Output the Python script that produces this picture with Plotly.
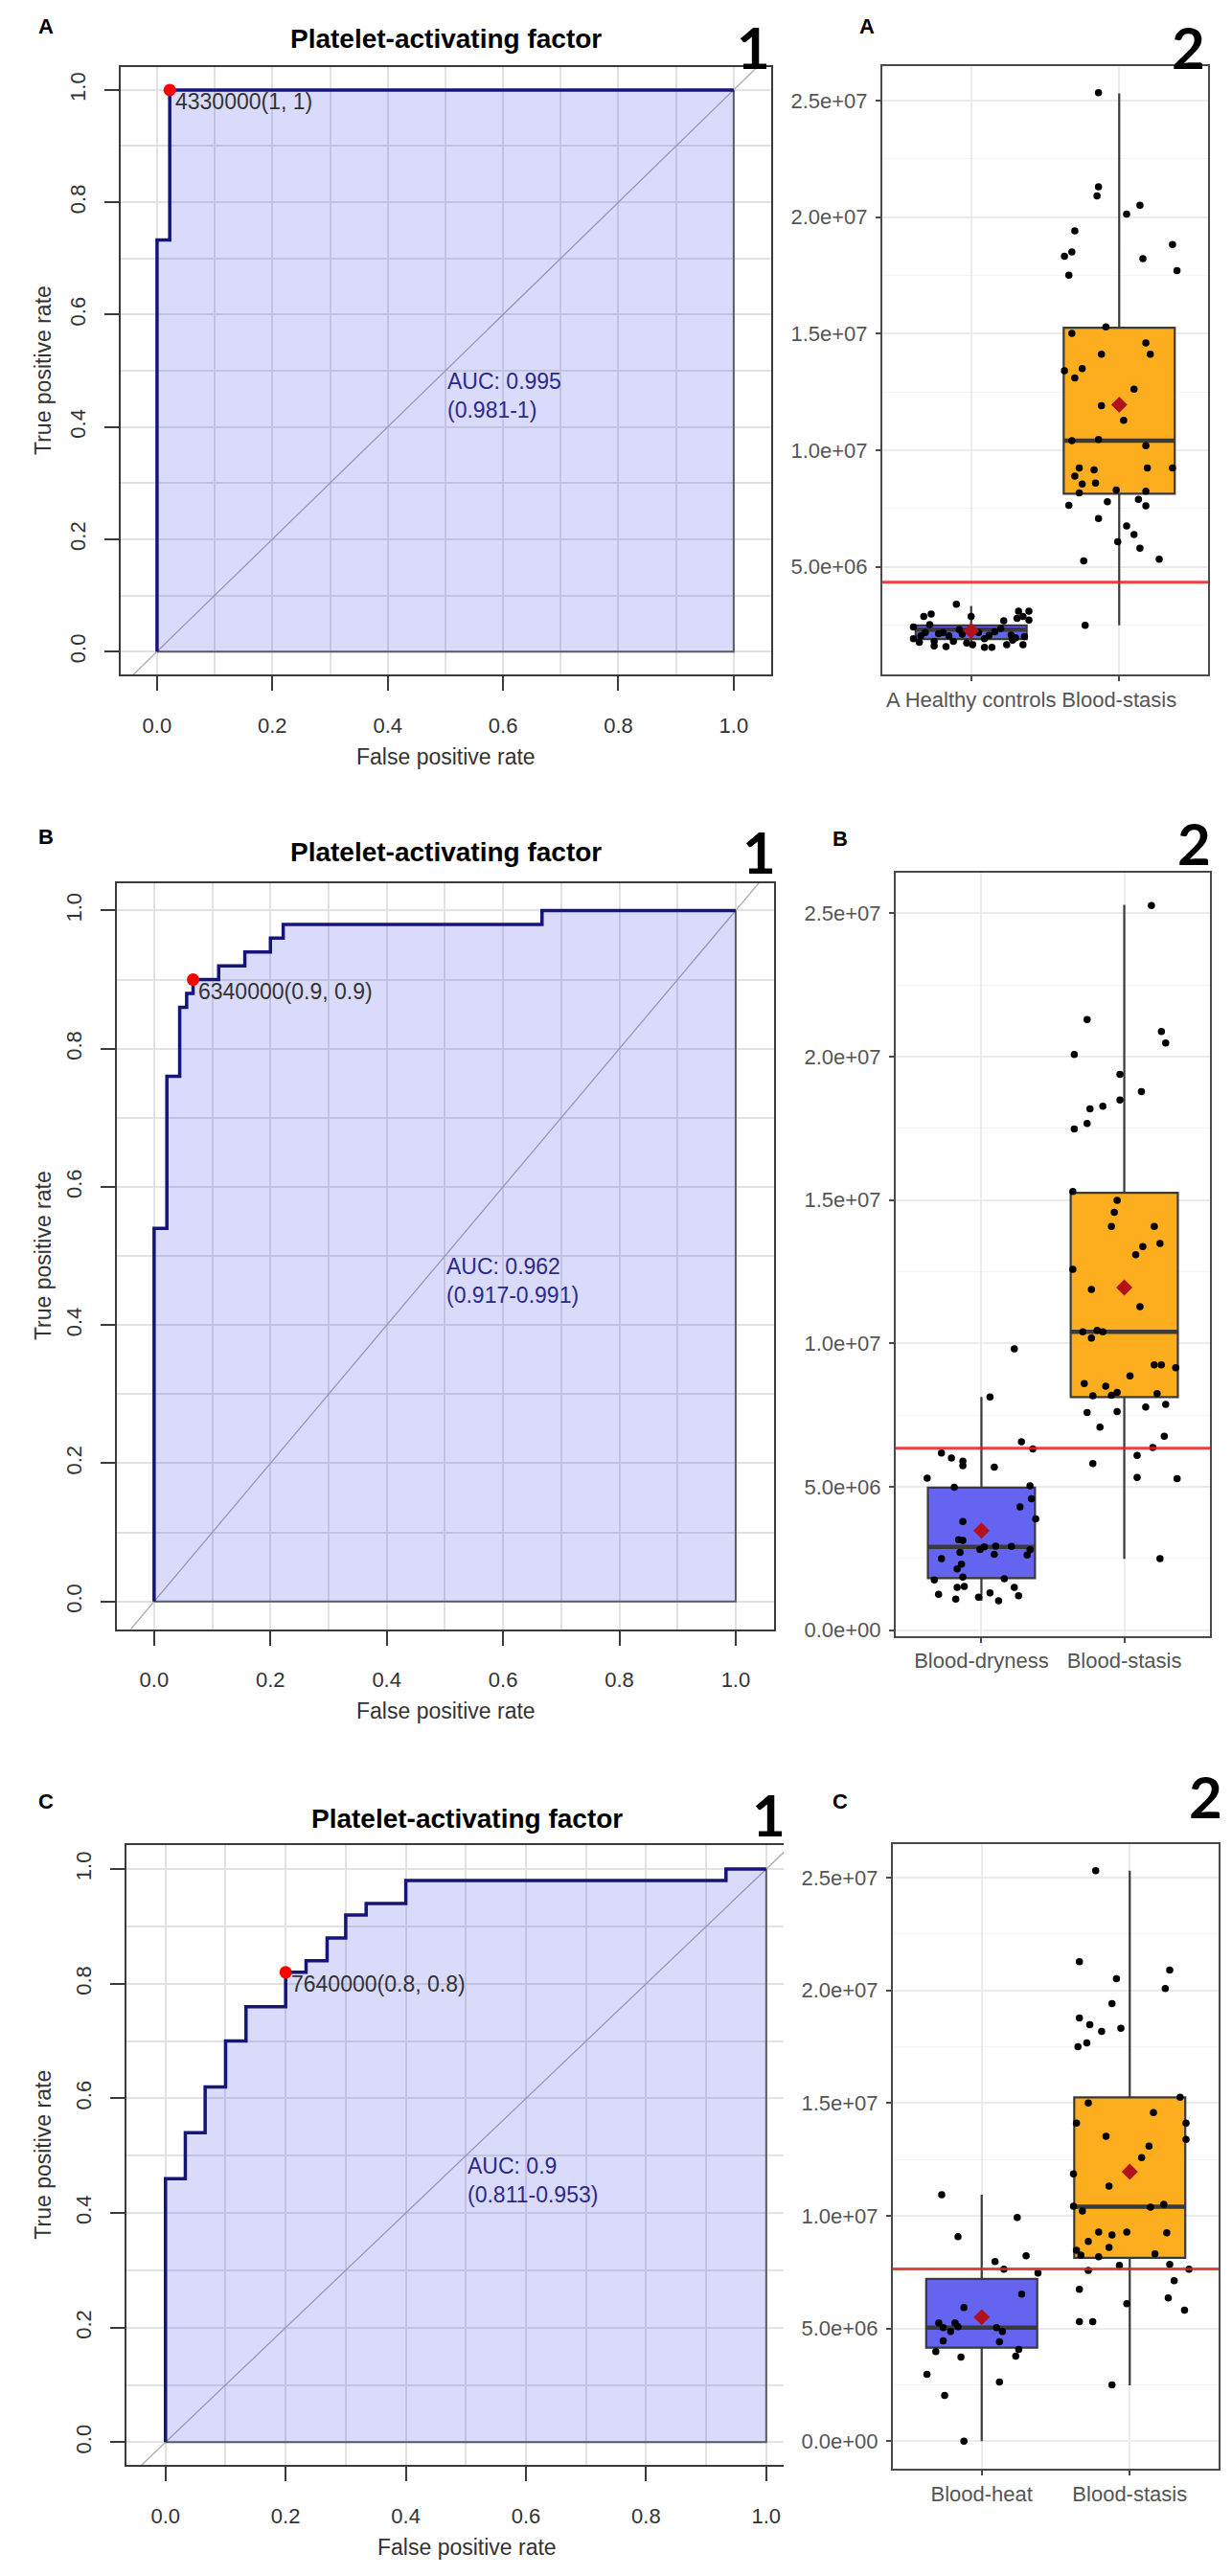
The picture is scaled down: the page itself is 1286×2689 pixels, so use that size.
import plotly.graph_objs as go

W, H = 1286, 2689

# ---------------- ROC data (fpr, tpr corners of the step curve) ----------------
roc_a_fpr = [0, 0, 0.022, 1.0]
roc_a_tpr = [0, 0.733, 1.0, 1.0]
roc_b_fpr = [0, 0, 0.022, 0.044, 0.056, 0.067, 0.111, 0.156, 0.2, 0.222, 0.667, 1.0]
roc_b_tpr = [0, 0.54, 0.76, 0.86, 0.88, 0.90, 0.92, 0.94, 0.96, 0.98, 1.0, 1.0]
roc_c_fpr = [0, 0, 0.033, 0.066, 0.10, 0.134, 0.20, 0.234, 0.269, 0.30, 0.334, 0.40, 0.933, 1.0]
roc_c_tpr = [0, 0.46, 0.54, 0.62, 0.70, 0.76, 0.82, 0.84, 0.88, 0.92, 0.94, 0.98, 1.0, 1.0]

best_fpr = [0.022, 0.067, 0.20]
best_tpr = [1.0, 0.90, 0.82]
best_text = ['4330000(1, 1)', '6340000(0.9, 0.9)', '7640000(0.8, 0.8)']
auc_text = ['AUC: 0.995<br>(0.981-1)', 'AUC: 0.962<br>(0.917-0.991)', 'AUC: 0.9<br>(0.811-0.953)']
roc_title = 'Platelet-activating factor'
roc_ticks = [0, 0.2, 0.4, 0.6, 0.8, 1.0]

# ---------------- box plot data (values x 1e6) ----------------
cutoffs = [4.33, 6.34, 7.64]
groups_a = ['A Healthy controls', 'Blood-stasis']
groups_b = ['Blood-dryness', 'Blood-stasis']
groups_c = ['Blood-heat', 'Blood-stasis']

# box statistics: lower whisker, q1, median, q3, upper whisker, mean
healthy_stats = [1.55, 1.89, 2.30, 2.48, 3.32, 2.25]
dryness_stats = [1.02, 1.81, 2.90, 4.97, 8.13, 3.47]
heat_stats = [0.0, 4.15, 5.04, 7.20, 10.93, 5.50]
stasis_stats = [2.48, 8.13, 10.40, 15.25, 25.30, 11.95]

# points: jitter offset around the group, value
healthy_off = [-0.10, -0.27, -0.32, 0.00, 0.22, 0.32, 0.39, 0.35, 0.31, 0.39, -0.28, -0.39, -0.39, -0.34,
               -0.25, -0.17, -0.25, -0.12, -0.03, 0.09, 0.14, 0.24, 0.35, 0.05, -0.06, -0.15, 0.16, 0.27,
               0.30, -0.31, -0.19, 0.09, 0.01, 0.20, -0.08, 0.12, -0.22, 0.28, 0.36, -0.35]
healthy_val = [3.39, 2.97, 2.86, 2.86, 2.68, 3.09, 3.09, 2.86, 2.78, 2.71, 2.51, 2.41, 1.91, 2.03,
               1.80, 1.57, 1.60, 1.80, 1.72, 1.54, 1.54, 1.65, 1.65, 2.18, 2.10, 2.03, 2.21, 2.06,
               1.95, 2.18, 2.18, 1.91, 1.65, 2.35, 2.30, 2.05, 2.12, 1.85, 2.00, 1.75]
stasis_a_off = [-0.14, -0.14, -0.15, 0.14, 0.05, -0.30, -0.32, -0.37, 0.36, 0.16, 0.39, -0.34, -0.09, -0.32,
                0.18, -0.12, 0.21, -0.25, -0.37, -0.30, 0.10, -0.12, 0.03, -0.32, -0.14, 0.18, -0.27, -0.17,
                0.19, 0.36, -0.30, -0.25, -0.16, -0.27, -0.02, 0.18, -0.34, -0.08, 0.13, 0.18, -0.14, 0.05,
                0.10, -0.01, 0.14, -0.24, 0.27, -0.23]
stasis_a_val = [25.33, 21.30, 20.91, 20.50, 20.12, 19.41, 18.50, 18.32, 18.82, 18.21, 17.70, 17.50, 15.29, 15.01,
                14.60, 14.11, 14.11, 13.50, 13.40, 13.10, 12.61, 11.90, 11.28, 10.40, 10.46, 10.19, 9.23, 9.15,
                9.23, 9.23, 8.88, 8.55, 8.59, 8.17, 8.29, 8.24, 7.63, 7.79, 7.89, 7.61, 7.07, 6.75,
                6.38, 6.07, 5.79, 5.25, 5.32, 2.48]
dryness_off = [0.23, 0.06, 0.28, 0.36, -0.28, -0.21, -0.13, -0.13, 0.09, -0.38, -0.19, 0.34, 0.35, 0.27,
               0.38, -0.13, -0.16, -0.13, 0.10, 0.02, -0.01, 0.21, -0.15, 0.09, 0.34, 0.32, -0.28, -0.14,
               -0.17, -0.13, -0.33, 0.16, 0.23, -0.17, -0.12, -0.30, -0.18, -0.02, 0.12, 0.26, 0.06]
dryness_val = [9.81, 8.13, 6.57, 6.32, 6.18, 6.00, 5.89, 5.73, 5.68, 5.30, 4.98, 5.03, 4.58, 4.30,
               3.88, 3.79, 3.15, 3.13, 2.93, 2.90, 2.81, 2.92, 2.71, 2.64, 2.80, 2.62, 2.49, 2.30,
               2.13, 1.85, 1.75, 1.79, 1.49, 1.49, 1.52, 1.25, 1.08, 1.15, 1.02, 1.20, 1.30]
stasis_b_off = [0.19, -0.26, 0.26, 0.29, -0.35, -0.03, 0.12, -0.03, -0.24, -0.15, -0.26, -0.35, -0.36, -0.05,
                -0.07, -0.09, 0.21, 0.25, 0.13, 0.08, -0.36, -0.23, 0.11, -0.29, -0.23, -0.19, -0.15, 0.21,
                0.26, 0.36, 0.04, -0.28, -0.13, -0.22, -0.09, -0.05, 0.23, 0.15, 0.29, -0.26, -0.05, -0.17,
                0.28, 0.20, 0.09, -0.22, 0.09, 0.37, 0.25]
stasis_b_val = [25.27, 21.30, 20.88, 20.48, 20.08, 19.38, 18.78, 18.49, 18.18, 18.27, 17.67, 17.48, 15.30, 14.99,
                14.57, 14.08, 14.08, 13.49, 13.38, 13.09, 12.58, 11.88, 11.28, 10.40, 10.19, 10.45, 10.40, 9.25,
                9.25, 9.15, 8.87, 8.60, 8.51, 8.17, 8.19, 8.29, 8.25, 7.78, 7.87, 7.59, 7.62, 7.08,
                6.76, 6.37, 6.09, 5.81, 5.32, 5.28, 2.49]
heat_off = [-0.27, 0.24, -0.16, 0.30, 0.09, 0.15, 0.38, 0.27, -0.12, -0.29, -0.26, -0.21, -0.18, -0.16,
            0.10, 0.14, -0.26, 0.12, -0.31, 0.25, -0.14, 0.23, -0.37, 0.12, -0.25, -0.12]
heat_val = [10.93, 9.92, 9.07, 8.22, 7.97, 7.63, 7.46, 6.53, 5.93, 5.25, 5.04, 4.87, 5.25, 5.08,
            5.04, 4.87, 4.45, 4.41, 3.98, 4.07, 3.73, 3.77, 2.97, 2.63, 2.03, 0.0]
stasis_c_off = [-0.23, -0.34, 0.27, -0.09, 0.24, -0.12, -0.34, -0.27, -0.06, -0.19, -0.29, -0.35, 0.34, -0.28,
                0.16, -0.36, 0.38, -0.16, 0.38, 0.13, 0.08, -0.38, -0.14, -0.38, -0.32, 0.14, 0.23, -0.21,
                -0.12, -0.02, 0.25, -0.28, -0.14, -0.36, -0.33, -0.21, 0.17, -0.07, 0.27, -0.28, 0.40, 0.30,
                -0.34, 0.26, -0.02, 0.37, -0.34, -0.25, -0.12]
stasis_c_val = [25.30, 21.27, 20.89, 20.51, 20.08, 19.41, 18.77, 18.47, 18.31, 18.18, 17.67, 17.50, 15.25, 15.00,
                14.58, 14.11, 14.11, 13.52, 13.39, 13.09, 12.58, 11.86, 11.31, 10.42, 10.21, 10.38, 10.51, 9.28,
                9.15, 9.28, 9.24, 8.86, 8.60, 8.47, 8.26, 8.18, 8.31, 7.80, 7.84, 7.58, 7.63, 7.12,
                6.74, 6.36, 6.10, 5.81, 5.30, 5.30, 2.50]

y_tickvals = [0, 5, 10, 15, 20, 25]
y_ticktext = ['0.0e+00', '5.0e+06', '1.0e+07', '1.5e+07', '2.0e+07', '2.5e+07']
y_minorvals = [2.5, 7.5, 12.5, 17.5, 22.5]

FONT = 'Liberation Sans, Arial, sans-serif'
E6 = 1e6


def px_x(p):
    return p / W


def px_y(p):
    return 1 - p / H


def eixos_roc(fig, n, box, xr, yr, right_line=True):
    # box = (left, top, right, bottom) in pixels
    grid = '#E2E2E2'
    comum = dict(showline=True, linecolor='#3A3A3A', linewidth=2, ticks='outside', ticklen=15,
                 tickwidth=1.5, tickcolor='#3A3A3A', tickvals=roc_ticks, tickformat='.1f',
                 tickfont=dict(size=22, color='#333333', family=FONT),
                 showgrid=True, gridcolor=grid, gridwidth=1.5, zeroline=False,
                 minor=dict(tick0=0, dtick=0.1, showgrid=True, gridcolor=grid, gridwidth=1.5))
    sx = '' if n == 1 else str(n)
    fig.update_layout({
        'xaxis' + sx: dict(comum, domain=[px_x(box[0]), px_x(box[2])], range=xr,
                           anchor='y' + sx, mirror=True, ticklabelstandoff=17),
        'yaxis' + sx: dict(comum, domain=[px_y(box[3]), px_y(box[1])], range=yr,
                           anchor='x' + sx, mirror=right_line, tickangle=-90, ticklabelstandoff=11),
    })


def eixos_box(fig, n, box, yr, grupos, mostrar_zero=True):
    sx = str(n)
    tv = y_tickvals if mostrar_zero else y_tickvals[1:]
    tt = y_ticktext if mostrar_zero else y_ticktext[1:]
    comum = dict(showline=True, mirror=True, linecolor='#4A4A4A', linewidth=2, ticks='outside',
                 ticklen=5, tickcolor='#4A4A4A', tickwidth=1.5,
                 tickfont=dict(size=22, color='#555555', family=FONT),
                 showgrid=True, gridcolor='#EBEBEB', gridwidth=1.5, zeroline=False)
    fig.update_layout({
        'xaxis' + sx: dict(comum, domain=[px_x(box[0]), px_x(box[2])], range=[-0.6, 1.6],
                           anchor='y' + sx, tickvals=[0, 1], ticktext=grupos),
        'yaxis' + sx: dict(comum, domain=[px_y(box[3]), px_y(box[1])], range=yr,
                           anchor='x' + sx, tickvals=[v * E6 for v in tv], ticktext=tt,
                           ticklabelstandoff=4,
                           minor=dict(tickvals=[v * E6 for v in y_minorvals], showgrid=True,
                                      gridcolor='#F4F4F4', gridwidth=1)),
    })


def grafico_roc(fig, n, fpr, tpr, k):
    sx = '' if n == 1 else str(n)
    xa, ya = 'x' + sx, 'y' + sx
    # diagonal de referencia
    fig.add_trace(go.Scatter(x=[-1, 2], y=[-1, 2], mode='lines', xaxis=xa, yaxis=ya,
                             line=dict(color='#AAAAAA', width=1.3), hoverinfo='skip'))
    # area sob a curva
    fig.add_trace(go.Scatter(x=fpr, y=tpr, mode='lines', xaxis=xa, yaxis=ya, fill='tozeroy',
                             fillcolor='rgba(70,70,230,0.2)', line=dict(width=0, shape='hv'),
                             hoverinfo='skip'))
    fig.add_trace(go.Scatter(x=[fpr[0], fpr[-1], fpr[-1]], y=[0, 0, tpr[-1]], mode='lines',
                             xaxis=xa, yaxis=ya, line=dict(color='#5A5A6A', width=2), hoverinfo='skip'))
    fig.add_trace(go.Scatter(x=fpr, y=tpr, mode='lines', xaxis=xa, yaxis=ya,
                             line=dict(color='#14147A', width=3.5, shape='hv')))
    fig.add_trace(go.Scatter(x=[best_fpr[k]], y=[best_tpr[k]], mode='markers', xaxis=xa, yaxis=ya,
                             marker=dict(color='#FF0000', size=13), cliponaxis=False))
    fig.add_annotation(x=best_fpr[k] + 0.006, y=best_tpr[k], xref=xa, yref=ya, text=best_text[k],
                       showarrow=False, xanchor='left', yanchor='top', yshift=3,
                       font=dict(size=23, color='#333333', family=FONT))
    fig.add_annotation(x=0.5, y=0.5, xref=xa, yref=ya, text=auc_text[k], showarrow=False,
                       xanchor='left', yanchor='top', align='left', yshift=4,
                       font=dict(size=23, color='#2A2A8C', family=FONT))


def grafico_box(fig, n, stats0, off0, val0, off1, val1, k):
    sx = str(n)
    xa, ya = 'x' + sx, 'y' + sx
    for i, (st, cor) in enumerate([(stats0, '#6464F0'), (stasis_stats, '#FDAE1E')]):
        fig.add_trace(go.Box(x=[i], lowerfence=[st[0] * E6], q1=[st[1] * E6], median=[st[2] * E6],
                             q3=[st[3] * E6], upperfence=[st[4] * E6], width=0.75, whiskerwidth=0,
                             fillcolor=cor, line=dict(color='#3A3A3A', width=2.2), boxpoints=False,
                             xaxis=xa, yaxis=ya, hoverinfo='skip'))
        # mediana mais grossa, como no ggplot
        fig.add_trace(go.Scatter(x=[i - 0.375, i + 0.375], y=[st[2] * E6, st[2] * E6], mode='lines',
                                 xaxis=xa, yaxis=ya, line=dict(color='#3A3A3A', width=4.5),
                                 hoverinfo='skip'))
    fig.add_trace(go.Scatter(x=[o for o in off0] + [1 + o for o in off1],
                             y=[v * E6 for v in val0] + [v * E6 for v in val1], mode='markers',
                             xaxis=xa, yaxis=ya, marker=dict(color='black', size=7.5)))
    fig.add_trace(go.Scatter(x=[0, 1], y=[stats0[5] * E6, stasis_stats[5] * E6], mode='markers',
                             xaxis=xa, yaxis=ya,
                             marker=dict(color='#B3121C', size=13, symbol='diamond')))
    fig.add_shape(type='line', xref=xa + ' domain', yref=ya, x0=0, x1=1,
                  y0=cutoffs[k] * E6, y1=cutoffs[k] * E6,
                  line=dict(color='rgba(232,30,30,0.85)', width=3))


fig = go.Figure()

# posicoes dos paineis em pixels (esq, topo, dir, base)
roc_boxes = [(118, 62, 797, 698), (114, 916, 800, 1697), (124, 1923, 810, 2572)]
box_boxes = [(913, 61, 1253, 698), (927, 905, 1255, 1704), (924, 1922, 1264, 2576)]

eixos_roc(fig, 1, roc_boxes[0], [-0.063, 1.065], [-0.041, 1.041])
eixos_roc(fig, 3, roc_boxes[1], [-0.064, 1.066], [-0.040, 1.040])
eixos_roc(fig, 5, roc_boxes[2], [-0.065, 1.029], [-0.040, 1.042], right_line=False)
eixos_box(fig, 2, box_boxes[0], [0.37 * E6, 26.48 * E6], groups_a, mostrar_zero=False)
eixos_box(fig, 4, box_boxes[1], [-0.2 * E6, 26.43 * E6], groups_b)
eixos_box(fig, 6, box_boxes[2], [-1.23 * E6, 26.48 * E6], groups_c)

grafico_roc(fig, 1, roc_a_fpr, roc_a_tpr, 0)
grafico_roc(fig, 3, roc_b_fpr, roc_b_tpr, 1)
grafico_roc(fig, 5, roc_c_fpr, roc_c_tpr, 2)
grafico_box(fig, 2, healthy_stats, healthy_off, healthy_val, stasis_a_off, stasis_a_val, 0)
grafico_box(fig, 4, dryness_stats, dryness_off, dryness_val, stasis_b_off, stasis_b_val, 1)
grafico_box(fig, 6, heat_stats, heat_off, heat_val, stasis_c_off, stasis_c_val, 2)


def texto(t, x, y, size, color='black', bold=False, family=FONT, angle=0):
    fig.add_annotation(x=px_x(x), y=px_y(y), xref='paper', yref='paper', text=('<b>%s</b>' % t) if bold else t,
                       showarrow=False, xanchor='center', yanchor='middle', textangle=angle,
                       font=dict(size=size, color=color, family=family))


# letras dos paineis
for t, pos in zip(['A', 'A', 'B', 'B', 'C', 'C'],
                  [(40, 20), (897, 20), (40, 868), (869, 870), (40, 1877), (869, 1877)]):
    texto(t, pos[0], pos[1], 22, bold=True)
for t, pos in zip(['1', '2', '1', '2', '1', '2'],
                  [(778, 41), (1232, 41), (784, 883), (1238, 874), (794, 1891), (1250, 1872)]):
    texto(t, pos[0], pos[1], 60, bold=True, family='Lato, Liberation Sans, sans-serif')

# titulos e eixos das curvas ROC
for (l, t, r, b), ty in zip(roc_boxes, [33, 884, 1895]):
    cx = (l + (r if r != 810 else 834)) / 2
    texto(roc_title, cx, ty, 28, bold=True)
    texto('False positive rate', cx, b + 86, 23, color='#333333')
    texto('True positive rate', 37, (t + b) / 2, 23, color='#333333', angle=-90)

fig.update_layout(width=W, height=H, margin=dict(l=0, r=0, t=0, b=0), showlegend=False,
                  plot_bgcolor='white', paper_bgcolor='white', font=dict(family=FONT))

fig.write_html("out.html")
